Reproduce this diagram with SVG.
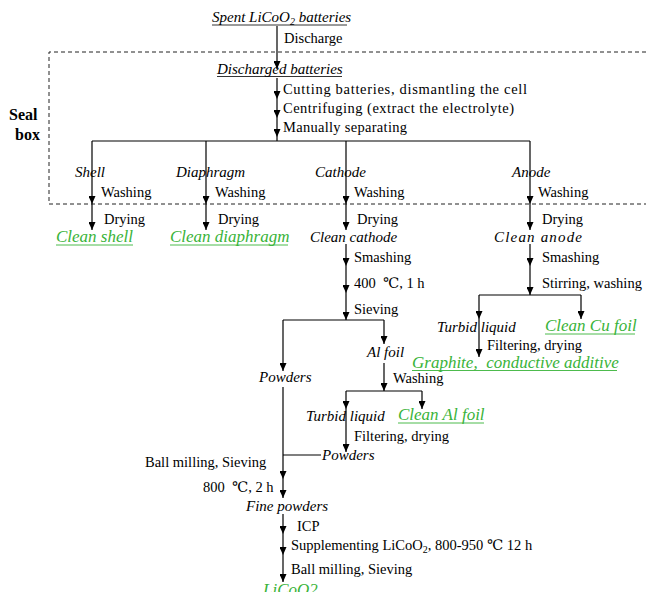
<svg xmlns="http://www.w3.org/2000/svg" width="647" height="592" viewBox="0 0 647 592" font-family="'Liberation Serif', 'DejaVu Serif', serif">
<style>
text{font-family:'Liberation Serif','DejaVu Serif',serif;fill:#000}
.t{font-size:14.5px}
.i{font-size:15px;font-style:italic}
.g{font-size:17px;font-style:italic;fill:#39b339}
.b{font-size:16px;font-weight:bold}
.ln{stroke:#000;stroke-width:1.2;fill:none}
.ar{stroke:#000;stroke-width:1.2;fill:none;marker-end:url(#ah)}
.ds{stroke:#222;stroke-width:1;fill:none;stroke-dasharray:4 3}
.ul{stroke:#000;stroke-width:0.8}
.gul{stroke:#39b339;stroke-width:0.9}
</style>
<defs>
<marker id="ah" markerWidth="8" markerHeight="7" refX="8" refY="3.5" orient="auto" markerUnits="userSpaceOnUse"><path d="M0,0 L8,3.5 L0,7 z" fill="#000"/></marker>
</defs>
<rect width="647" height="592" fill="#fff"/>

<g id="seal-box">
<path class="ds" d="M646,52 H49 V204 H646"/>
<text class="b" x="9" y="120">Seal</text>
<text class="b" x="15" y="140">box</text>
</g>

<g id="connectors">
<path class="ar" d="M277,26 V69"/>
<path class="ar" d="M277,78 V99"/>
<path class="ar" d="M277,99 V118"/>
<path class="ar" d="M277,118 V137"/>
<path class="ln" d="M277,137 V141 M92,141 H530"/>
<path class="ar" d="M92,141 V204"/><path class="ar" d="M92,204 V230"/>
<path class="ar" d="M206,141 V204"/><path class="ar" d="M206,204 V230"/>
<path class="ar" d="M346,141 V204"/><path class="ar" d="M346,204 V230"/>
<path class="ar" d="M346,244 V266"/><path class="ar" d="M346,266 V293"/><path class="ar" d="M346,293 V320"/>
<path class="ln" d="M283,320 H384"/>
<path class="ar" d="M283,320 V371"/><path class="ar" d="M384,320 V344"/>
<path class="ar" d="M384,363 V391"/>
<path class="ln" d="M346,391 H422"/>
<path class="ar" d="M346,391 V409"/><path class="ar" d="M422,391 V409"/>
<path class="ar" d="M346,409 V452"/>
<path class="ar" d="M530,141 V204"/><path class="ar" d="M530,204 V230"/>
<path class="ar" d="M530,244 V266"/><path class="ar" d="M530,266 V295"/>
<path class="ln" d="M479,295 H581"/>
<path class="ar" d="M479,295 V319"/><path class="ar" d="M581,295 V319"/>
<path class="ar" d="M479,319 V357"/>
<path class="ar" d="M283,387 V479"/><path class="ar" d="M283,479 V498"/>
<path class="ln" d="M283,455 H321"/>
<path class="ar" d="M283,514 V534"/><path class="ar" d="M283,534 V555"/><path class="ar" d="M283,555 V582"/>
</g>

<g id="edge-labels">
<text class="t" x="284" y="43">Discharge</text>
<text class="t" x="283" y="94" textLength="244">Cutting batteries, dismantling the cell</text>
<text class="t" x="283" y="113" textLength="231">Centrifuging (extract the electrolyte)</text>
<text class="t" x="283" y="132" textLength="124">Manually separating</text>
<text class="t" x="101" y="197">Washing</text>
<text class="t" x="215" y="197">Washing</text>
<text class="t" x="354" y="197">Washing</text>
<text class="t" x="538" y="197">Washing</text>
<text class="t" x="104" y="224">Drying</text>
<text class="t" x="218" y="224">Drying</text>
<text class="t" x="357" y="224">Drying</text>
<text class="t" x="542" y="224">Drying</text>
<text class="t" x="354" y="262">Smashing</text>
<text class="t" x="542" y="262">Smashing</text>
<text class="t" x="354" y="288" xml:space="preserve">400  ℃, 1 h</text>
<text class="t" x="542" y="288">Stirring, washing</text>
<text class="t" x="354" y="314">Sieving</text>
<text class="t" x="487" y="350">Filtering, drying</text>
<text class="t" x="393" y="383">Washing</text>
<text class="t" x="354" y="441">Filtering, drying</text>
<text class="t" x="145" y="467">Ball milling, Sieving</text>
<text class="t" x="203" y="492" xml:space="preserve">800  ℃, 2 h</text>
<text class="t" x="297" y="531">ICP</text>
<text class="t" x="291" y="550">Supplementing LiCoO<tspan font-size="10" dy="3">2</tspan><tspan dy="-3">, 800-950 ℃ 12 h</tspan></text>
<text class="t" x="291" y="574">Ball milling, Sieving</text>
</g>

<g id="node-spent">
<text class="i" x="212" y="22" font-size="14.5">Spent LiCoO<tspan font-size="10" dy="3">2</tspan><tspan dy="-3"> batteries</tspan></text>
<line class="ul" x1="212" y1="25" x2="347" y2="25"/>
</g>
<g id="node-discharged">
<text class="i" x="217" y="74">Discharged batteries</text>
<line class="ul" x1="217" y1="76.5" x2="342" y2="76.5"/>
</g>
<g id="node-shell"><text class="i" x="75" y="177">Shell</text></g>
<g id="node-diaphragm"><text class="i" x="176" y="177">Diaphragm</text></g>
<g id="node-cathode"><text class="i" x="315" y="177">Cathode</text></g>
<g id="node-anode"><text class="i" x="512" y="177">Anode</text></g>
<g id="node-clean-shell"><text class="g" x="56" y="242">Clean shell</text><line class="gul" x1="56" y1="245" x2="133" y2="245"/></g>
<g id="node-clean-diaphragm"><text class="g" x="170" y="242">Clean diaphragm</text><line class="gul" x1="170" y1="245" x2="288" y2="245"/></g>
<g id="node-clean-cathode"><text class="i" x="310" y="242">Clean cathode</text></g>
<g id="node-clean-anode"><text class="i" x="494" y="242" font-size="16" textLength="88">Clean anode</text></g>
<g id="node-powders1"><text class="i" x="259" y="382">Powders</text></g>
<g id="node-al-foil"><text class="i" x="367" y="357">Al foil</text></g>
<g id="node-turbid-anode"><text class="i" x="437" y="332">Turbid liquid</text></g>
<g id="node-clean-cu"><text class="g" x="545" y="331">Clean Cu foil</text><line class="gul" x1="545" y1="334" x2="635" y2="334"/></g>
<g id="node-graphite"><text class="g" x="412" y="368" xml:space="preserve">Graphite,  conductive additive</text><line class="gul" x1="412" y1="370.5" x2="617" y2="370.5"/></g>
<g id="node-turbid-al"><text class="i" x="306" y="421">Turbid liquid</text></g>
<g id="node-clean-al"><text class="g" x="398" y="420">Clean Al foil</text><line class="gul" x1="398" y1="423" x2="484" y2="423"/></g>
<g id="node-powders2"><text class="i" x="322" y="460">Powders</text></g>
<g id="node-fine-powders"><text class="i" x="246" y="511">Fine powders</text></g>
<g id="node-licoo2"><text class="g" x="263" y="595">LiCoO2</text></g>
</svg>
